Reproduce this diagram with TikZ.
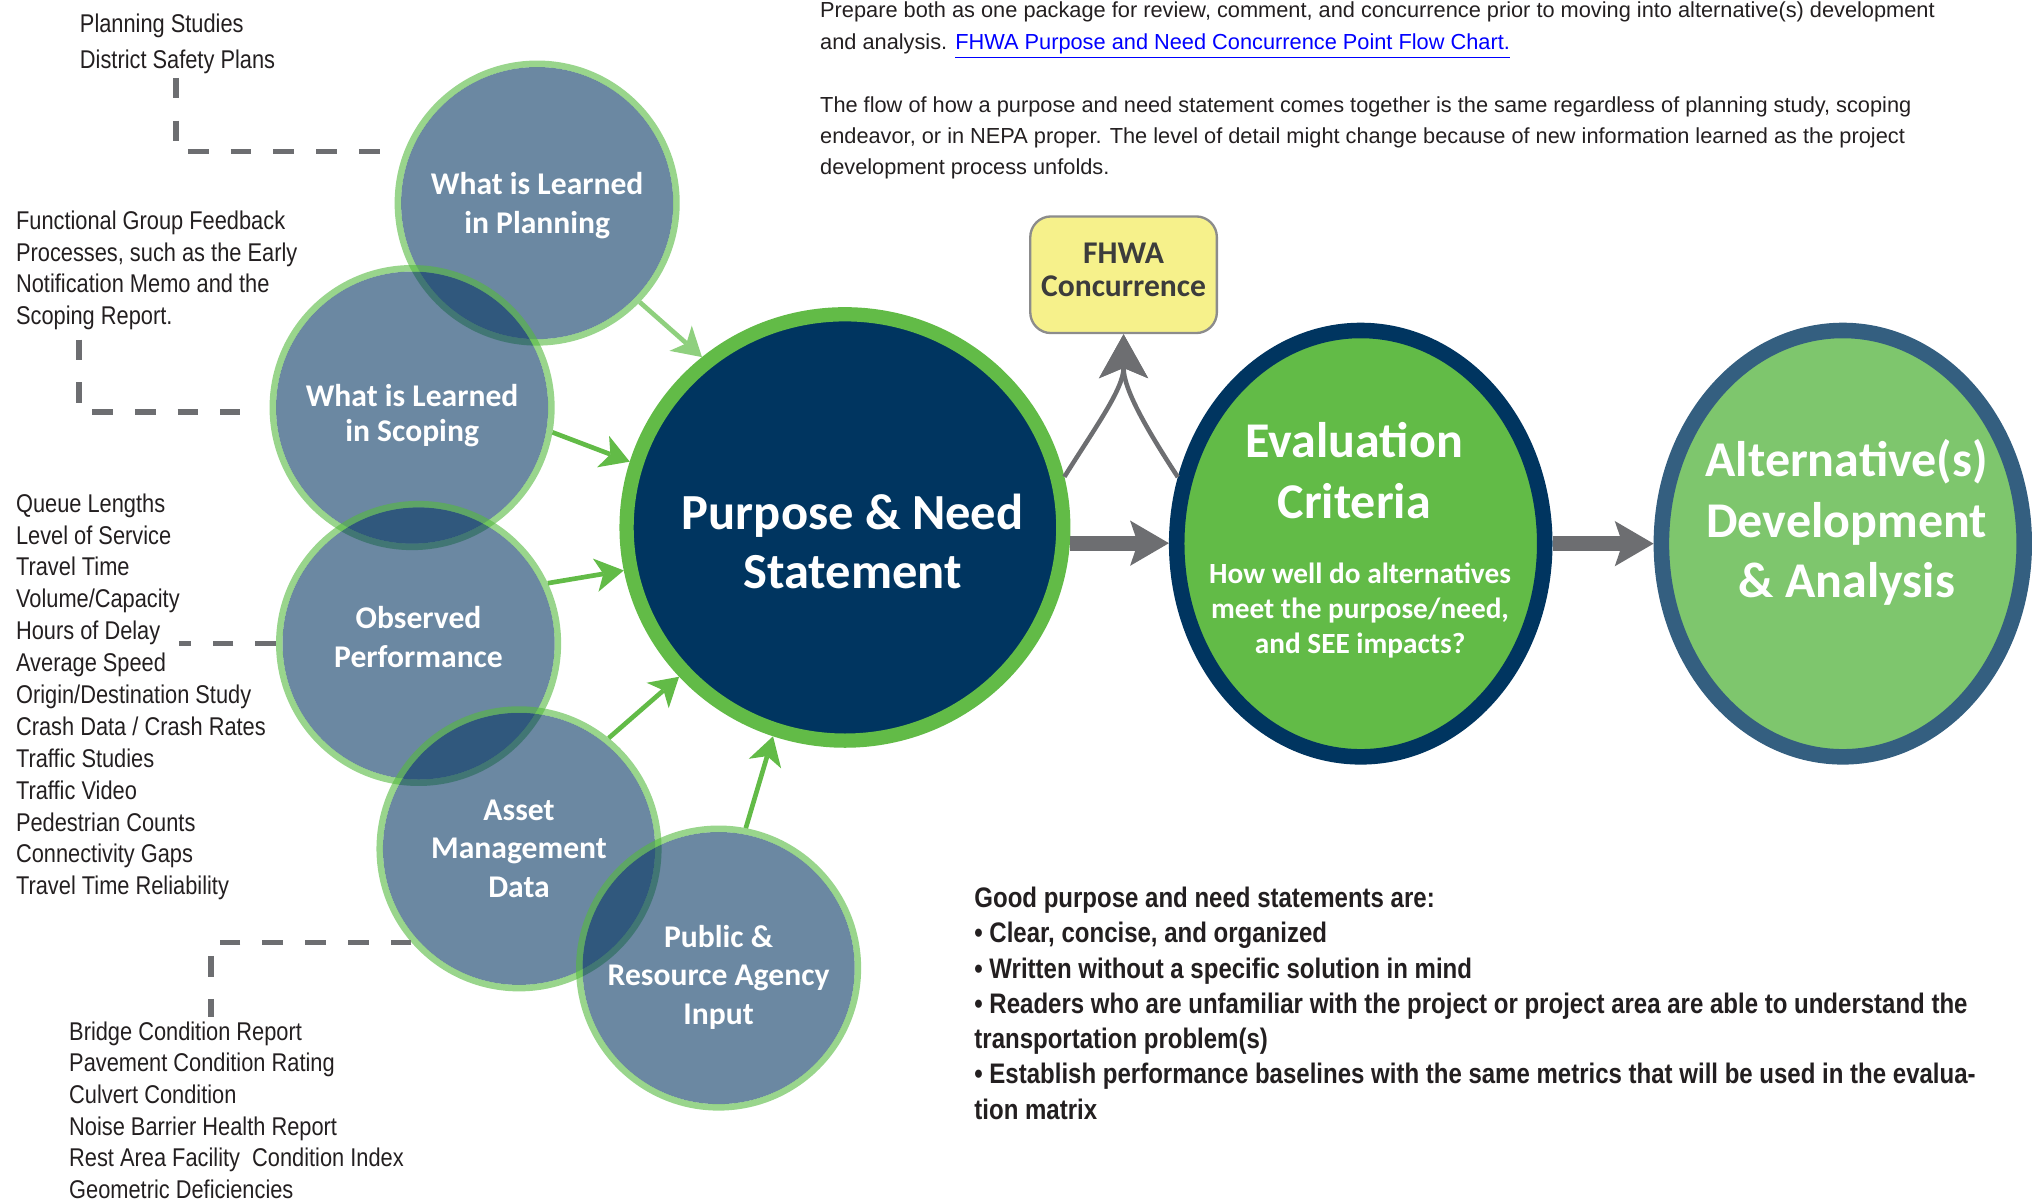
\documentclass[tikz,border=0pt]{standalone}
\usepackage{fontspec}
\setmainfont{Liberation Sans}
\newfontfamily\narrowfont[FakeStretch=0.85]{Liberation Sans}
\newfontfamily\calfont{Carlito}
\usepackage{xcolor}
\usepackage{tikz}
\usetikzlibrary{arrows.meta,shapes.geometric,positioning}

\definecolor{navyfill}{RGB}{0,53,96}
\definecolor{pngreen}{RGB}{98,187,71}
\definecolor{altgreen}{RGB}{126,198,109}
\definecolor{altring}{RGB}{52,95,128}
\definecolor{circblue}{RGB}{8,56,100}
\definecolor{ringgreen}{RGB}{85,185,63}
\definecolor{lightarrow}{RGB}{143,208,126}
\definecolor{arrowgray}{RGB}{109,110,113}
\definecolor{fhwafill}{RGB}{246,241,139}
\definecolor{fhwaline}{RGB}{140,140,140}
\definecolor{fhwatext}{RGB}{60,60,60}
\definecolor{linkblue}{RGB}{0,0,255}
\definecolor{bodytext}{RGB}{35,31,32}

\begin{document}
\begin{tikzpicture}[x=0.5pt,y=0.5pt,yscale=-1,
  inputcirc/.style={circle, fill=circblue, fill opacity=0.6,
    minimum size=105pt, inner sep=0pt, outer sep=2.5pt},
  inputring/.style={draw=ringgreen, draw opacity=0.6, line width=2.5pt},
  circtext/.style={text=white, align=center, inner sep=0pt,
    font=\calfont\bfseries\fontsize{12.2}{14.8}\selectfont},
  pncirc/.style={ellipse, draw=pngreen, line width=5.5pt, fill=navyfill,
    minimum width=168.5pt, minimum height=164.5pt, inner sep=0pt},
  evalcirc/.style={ellipse, draw=navyfill, line width=6pt, fill=pngreen,
    minimum width=142pt, minimum height=164.5pt, inner sep=0pt},
  altcirc/.style={ellipse, draw=altring, line width=6pt, fill=altgreen,
    minimum width=140pt, minimum height=164.5pt, inner sep=0pt},
  bigtitle/.style={text=white, align=center, inner sep=0pt, anchor=north,
    font=\calfont\bfseries\fontsize{19.3}{23.4}\selectfont},
  subtitle/.style={text=white, align=center, inner sep=0pt, anchor=north,
    font=\calfont\bfseries\fontsize{11.3}{13.5}\selectfont},
  fhwabox/.style={rectangle, rounded corners=8pt, draw=fhwaline, line width=0.9pt,
    fill=fhwafill, minimum width=72pt, minimum height=45pt, inner sep=0pt},
  fhwalabel/.style={text=fhwatext, align=center, inner sep=0pt,
    font=\calfont\bfseries\fontsize{12.2}{13}\selectfont},
  listtext/.style={anchor=north west, inner sep=0pt, align=left, text=bodytext,
    font=\narrowfont\fontsize{9.9}{12.3}\selectfont},
  paratext/.style={anchor=north west, inner sep=0pt, align=left, text=bodytext,
    font=\fontsize{8.4}{12.5}\selectfont},
  goodtext/.style={anchor=north west, inner sep=0pt, align=left, text=bodytext,
    font=\narrowfont\bfseries\fontsize{10.9}{13.6}\selectfont},
  dashline/.style={draw=arrowgray, line width=2.2pt, dash pattern=on 8pt off 8.5pt},
  feedarrow/.style={color=pngreen, line width=1.8pt,
    -{Stealth[length=11pt,width=13pt,inset=3pt,line width=0pt]}},
  flowarrow/.style={color=arrowgray, line width=5.8pt,
    -{Stealth[length=15pt,width=17.5pt,inset=3pt,line width=0pt]}},
  concurarrow/.style={color=arrowgray, line width=1.75pt,
    -{Stealth[length=17pt,width=19pt,inset=4pt,line width=0pt]}}]
  \useasboundingbox (0,0) rectangle (1568,928);

  % Text Node
  \node[paratext] (toppara) at (632.5,0.6) {Prepare both as one package for review, comment, and concurrence prior to moving into alternative(s) development\\and analysis. \textcolor{linkblue}{\underline{FHWA Purpose and Need Concurrence Point Flow Chart.}}};
  % Text Node
  \node[paratext, font=\fontsize{8.4}{12}\selectfont] (flowpara) at (632.5,74) {The flow of how a purpose and need statement comes together is the same regardless of planning study, scoping\\endeavor, or in NEPA proper. The level of detail might change because of new information learned as the project\\development process unfolds.};

  % Text Node
  \node[listtext, font=\narrowfont\fontsize{9.9}{14.1}\selectfont] (planlist) at (61.3,10) {Planning Studies\\District Safety Plans};
  % Text Node
  \node[listtext, font=\narrowfont\fontsize{9.9}{12.2}\selectfont] (scopelist) at (12,162.5) {Functional Group Feedback\\Processes, such as the Early\\Notification Memo and the\\Scoping Report.};
  % Text Node
  \node[listtext] (perflist) at (12,380.5) {Queue Lengths\\Level of Service\\Travel Time\\Volume/Capacity\\Hours of Delay\\Average Speed\\Origin/Destination Study\\Crash Data / Crash Rates\\Traffic Studies\\Traffic Video\\Pedestrian Counts\\Connectivity Gaps\\Travel Time Reliability};
  % Text Node
  \node[listtext, font=\narrowfont\fontsize{9.9}{12.2}\selectfont] (assetlist) at (53,788) {Bridge Condition Report\\Pavement Condition Rating\\Culvert Condition\\Noise Barrier Health Report\\Rest Area Facility~ Condition Index\\Geometric Deficiencies};

  %Shape: Circle
  \node[inputcirc] (plan) at (414.5,156.7) {};
  \draw[inputring] (plan.center) circle[radius=53.75pt];
  \node[circtext] (plantext) at (414.5,158.7) {What is Learned\\in Planning};
  %Shape: Circle
  \node[inputcirc] (scope) at (318,314.5) {};
  \draw[inputring] (scope.center) circle[radius=53.75pt];
  \node[circtext, font=\calfont\bfseries\fontsize{12.2}{13.5}\selectfont] (scopetext) at (318,320.5) {What is Learned\\in Scoping};
  %Shape: Circle
  \node[inputcirc] (obs) at (323,496.5) {};
  \draw[inputring] (obs.center) circle[radius=53.75pt];
  \node[circtext] (obstext) at (323,491.5) {Observed\\Performance};
  %Shape: Circle
  \node[inputcirc] (asset) at (400.5,655) {};
  \draw[inputring] (asset.center) circle[radius=53.75pt];
  \node[circtext] (assettext) at (400.5,655) {Asset\\Management\\Data};
  %Shape: Circle
  \node[inputcirc] (public) at (554.5,747) {};
  \draw[inputring] (public.center) circle[radius=53.75pt];
  \node[circtext] (publictext) at (554.5,754) {Public \&\\Resource Agency\\Input};

  %Shape: Ellipse
  \node[pncirc] (pn) at (652,407) {};
  \node[bigtitle, font=\calfont\bfseries\fontsize{19.5}{22.75}\selectfont] (pntext) at (658,381) {Purpose \& Need\\Statement};
  %Shape: Ellipse
  \node[evalcirc] (eval) at (1050,419.5) {};
  \node[bigtitle] (evaltitle) at (1045,325.5) {Evaluation\\Criteria};
  \node[subtitle] (evalsub) at (1049.5,434) {How well do alternatives\\meet the purpose/need,\\and SEE impacts?};
  %Shape: Ellipse
  \node[altcirc] (alt) at (1422,419.5) {};
  \node[bigtitle] (alttext) at (1425,338.7) {Alternative(s)\\Development\\\& Analysis};
  %Shape: Rounded Rectangle
  \node[fhwabox] (fhwa) at (867,212) {};
  \node[fhwalabel] (fhwatitle) at (867,208.3) {FHWA\\Concurrence};

  %Straight Lines
  \coordinate (plandash) at (136,60);
  \coordinate (planend) at (293,117);
  \draw[dashline] (plandash) |- (planend);
  \coordinate (scopedash) at (61,262);
  \coordinate (scopeend) at (185,318);
  \draw[dashline] (scopedash) |- (scopeend);
  \coordinate (perfdash) at (138,496.5);
  \draw[dashline] (obs.west) -- (perfdash);
  \coordinate (assetdash) at (163,785);
  \draw[dashline] (asset.221.6) -| (assetdash);

  %Straight Lines
  \draw[feedarrow, color=lightarrow] (plan.-44.4) -- (pn.130);
  \draw[feedarrow] (scope.-10.6) -- (pn.163.6);
  \draw[feedarrow] (obs.25.3) -- (pn.191.5);
  \draw[feedarrow] (asset.51) -- (pn.222.4);
  \draw[feedarrow] (public.79.9) -- (pn.251.6);

  %Straight Lines
  \draw[flowarrow] (pn.-4.7) -- (pn.-4.7 -| eval.west);
  \draw[flowarrow] (eval.east) -- (alt.west);

  %Curve Lines
  \draw[concurarrow] (pn.13) .. controls (845,330) and (867,300) .. (fhwa.south);
  \draw[concurarrow] (eval.160.4) .. controls (884,330) and (867,300) .. (fhwa.south);

  % Text Node
  \node[goodtext] (goodlist) at (751.5,684.1) {Good purpose and need statements are:\\• Clear, concise, and organized\\• Written without a specific solution in mind\\• Readers who are unfamiliar with the project or project area are able to understand the\\transportation problem(s)\\• Establish performance baselines with the same metrics that will be used in the evalua-\\tion matrix};
\end{tikzpicture}
\end{document}
